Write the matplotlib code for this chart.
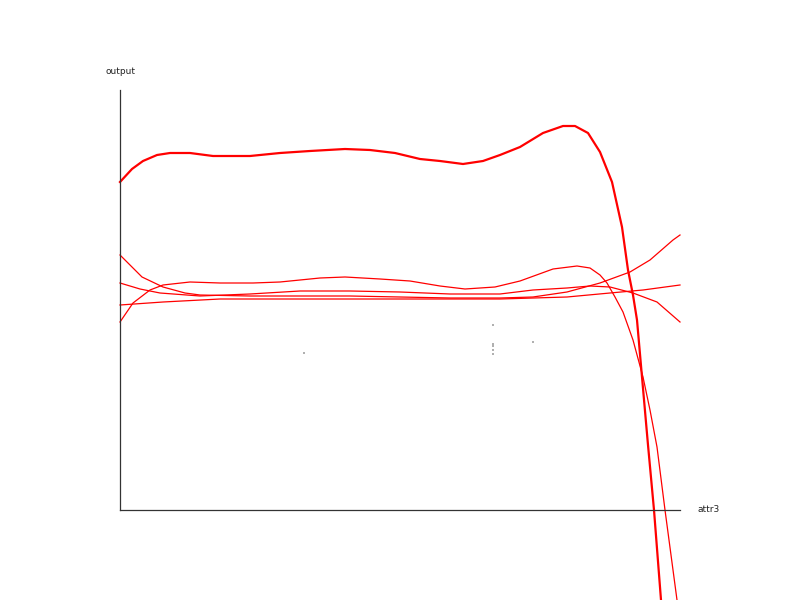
import matplotlib
matplotlib.use("Agg")
import matplotlib.pyplot as plt

# attr3 (x) / output (y) values
thick_x = [0, 1.2, 2.3, 3.7, 5.0, 7.0, 9.3, 13.0, 16.0, 19.0, 22.5, 25.0, 27.5, 30.0, 32.0,
           34.3, 36.3, 38.0, 40.0, 42.3, 44.3, 45.5, 46.8, 48.0, 49.2, 50.2, 50.8, 51.3,
           51.7, 52.2, 52.8, 53.4, 54.1]
thick_y = [32.8, 34.1, 34.9, 35.5, 35.7, 35.7, 35.4, 35.4, 35.7, 35.9, 36.1, 36.0, 35.7, 35.1,
           34.9, 34.6, 34.9, 35.5, 36.3, 37.7, 38.4, 38.4, 37.7, 35.8, 32.8, 28.3, 24.0, 21.5,
           19.0, 13.3, 6.5, 0.0, -9.0]

b_x = [0, 1.3, 3.0, 4.3, 7.0, 10.0, 13.3, 16.0, 20.0, 22.5, 26.0, 29.0, 32.0, 34.5, 37.5, 40.0,
       43.3, 45.7, 47.0, 48.0, 48.7, 49.5, 50.3, 51.3, 52.3, 53.0, 53.7, 54.5, 55.1, 55.7]
b_y = [18.8, 20.7, 22.0, 22.5, 22.8, 22.7, 22.7, 22.8, 23.2, 23.3, 23.1, 22.9, 22.4, 22.1, 22.3,
       22.9, 24.1, 24.4, 24.2, 23.5, 22.7, 21.3, 19.8, 17.0, 13.3, 10.0, 6.3, 0.0, -4.5, -9.0]

a_x = [0, 1.0, 2.2, 4.3, 6.5, 8.0, 13.0, 18.0, 23.0, 28.0, 33.0, 38.0, 41.3, 44.7, 48.0, 51.0,
       53.0, 55.3, 56.0]
a_y = [25.5, 24.5, 23.3, 22.3, 21.7, 21.5, 21.4, 21.4, 21.4, 21.3, 21.2, 21.2, 21.3, 21.8, 22.7,
       23.8, 25.0, 27.0, 27.5]

c_x = [0, 2.0, 4.0, 8.0, 13.0, 18.0, 20.0, 23.0, 28.0, 33.0, 38.0, 41.3, 44.7, 47.0, 49.0, 51.3,
       53.7, 56.0]
c_y = [22.7, 22.1, 21.7, 21.4, 21.6, 21.9, 21.9, 21.9, 21.8, 21.6, 21.6, 22.0, 22.2, 22.4, 22.3,
       21.7, 20.8, 18.8]

d_x = [0, 4.3, 10.0, 13.0, 18.0, 28.0, 38.0, 44.7, 49.0, 52.3, 56.0]
d_y = [20.5, 20.8, 21.1, 21.1, 21.1, 21.1, 21.1, 21.3, 21.7, 22.0, 22.5]

pts_x = [18.4, 37.3, 37.3, 37.3, 37.3, 37.3, 41.3]
pts_y = [15.7, 18.5, 16.6, 16.4, 16.0, 15.6, 16.8]

fig = plt.figure(figsize=(8, 6), dpi=100)
ax = fig.add_axes([0.15, 0.15, 0.70, 0.70])
ax.set_xlim(0, 56)
ax.set_ylim(0, 42)

ax.scatter(pts_x, pts_y, s=2.5, marker="s", color="#b0b0b0", linewidths=0, clip_on=False)

red = "#ff0000"
for xs, ys in [(a_x, a_y), (c_x, c_y), (d_x, d_y), (b_x, b_y)]:
    ax.plot(xs, ys, color=red, lw=0.9, clip_on=False)
ax.plot(thick_x, thick_y, color=red, lw=1.6, clip_on=False)

for s in ["top", "right"]:
    ax.spines[s].set_visible(False)
for s in ["left", "bottom"]:
    ax.spines[s].set_color("#333333")
    ax.spines[s].set_linewidth(0.9)
ax.set_xticks([])
ax.set_yticks([])

ax.text(0, 1.045, "output", transform=ax.transAxes, ha="center", va="center",
        fontsize=6.5, color="#222222")
ax.text(1.032, 0, "attr3", transform=ax.transAxes, ha="left", va="center",
        fontsize=6.5, color="#222222")

fig.savefig("out.png", dpi=100)
